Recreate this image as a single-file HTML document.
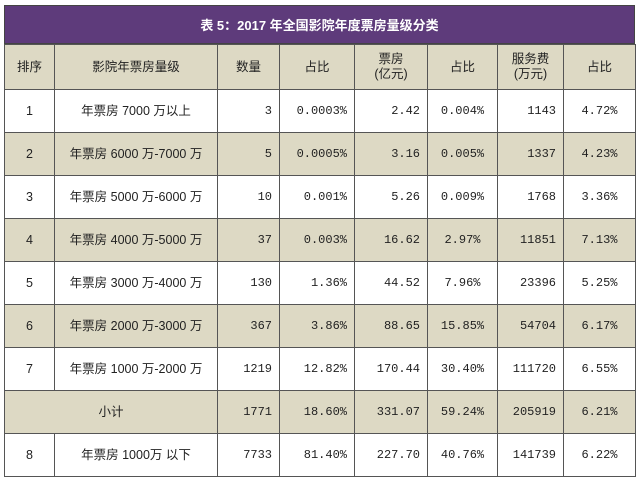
<!DOCTYPE html>
<html><head><meta charset="utf-8"><style>
body{margin:0;background:#fff;width:640px;height:481px;overflow:hidden;font-family:"Liberation Sans","Noto Sans CJK SC",sans-serif;}
#wrap{position:absolute;left:4px;top:5px;width:631px;}
.title{height:39px;background:#5e3b7b;color:#fff;font-weight:bold;font-size:13px;text-align:center;line-height:39px;border:1px solid #444;box-sizing:border-box;}
table{border-collapse:collapse;table-layout:fixed;width:631px;font-size:12.5px;color:#222;}
td{border:1px solid #555;height:43px;padding:0 7px;text-align:center;box-sizing:border-box;line-height:15px;}
tr.b td{background:#ddd9c4;}
td.r{text-align:right;}
td.m{font-family:"Liberation Mono","Noto Sans CJK SC",monospace;font-size:12px;}
</style></head><body>
<div id="wrap">
<div class="title">表 5：2017 年全国影院年度票房量级分类</div>
<table>
<colgroup><col style="width:50px"><col style="width:163px"><col style="width:62px"><col style="width:75px"><col style="width:73px"><col style="width:70px"><col style="width:66px"><col style="width:72px"></colgroup>
<tr class="b" style="height:45px"><td style="height:45px">排序</td><td>影院年票房量级</td><td>数量</td><td>占比</td><td>票房<br>(亿元)</td><td>占比</td><td>服务费<br>(万元)</td><td>占比</td></tr>
<tr><td>1</td><td>年票房 7000 万以上</td><td class="r m">3</td><td class="r m">0.0003%</td><td class="r m">2.42</td><td class="m">0.004%</td><td class="r m">1143</td><td class="m">4.72%</td></tr>
<tr class="b"><td>2</td><td>年票房 6000 万-7000 万</td><td class="r m">5</td><td class="r m">0.0005%</td><td class="r m">3.16</td><td class="m">0.005%</td><td class="r m">1337</td><td class="m">4.23%</td></tr>
<tr><td>3</td><td>年票房 5000 万-6000 万</td><td class="r m">10</td><td class="r m">0.001%</td><td class="r m">5.26</td><td class="m">0.009%</td><td class="r m">1768</td><td class="m">3.36%</td></tr>
<tr class="b"><td>4</td><td>年票房 4000 万-5000 万</td><td class="r m">37</td><td class="r m">0.003%</td><td class="r m">16.62</td><td class="m">2.97%</td><td class="r m">11851</td><td class="m">7.13%</td></tr>
<tr><td>5</td><td>年票房 3000 万-4000 万</td><td class="r m">130</td><td class="r m">1.36%</td><td class="r m">44.52</td><td class="m">7.96%</td><td class="r m">23396</td><td class="m">5.25%</td></tr>
<tr class="b"><td>6</td><td>年票房 2000 万-3000 万</td><td class="r m">367</td><td class="r m">3.86%</td><td class="r m">88.65</td><td class="m">15.85%</td><td class="r m">54704</td><td class="m">6.17%</td></tr>
<tr><td>7</td><td>年票房 1000 万-2000 万</td><td class="r m">1219</td><td class="r m">12.82%</td><td class="r m">170.44</td><td class="m">30.40%</td><td class="r m">111720</td><td class="m">6.55%</td></tr>
<tr class="b"><td colspan="2">小计</td><td class="r m">1771</td><td class="r m">18.60%</td><td class="r m">331.07</td><td class="m">59.24%</td><td class="r m">205919</td><td class="m">6.21%</td></tr>
<tr><td>8</td><td>年票房 1000万 以下</td><td class="r m">7733</td><td class="r m">81.40%</td><td class="r m">227.70</td><td class="m">40.76%</td><td class="r m">141739</td><td class="m">6.22%</td></tr>
</table>
</div>
</body></html>
